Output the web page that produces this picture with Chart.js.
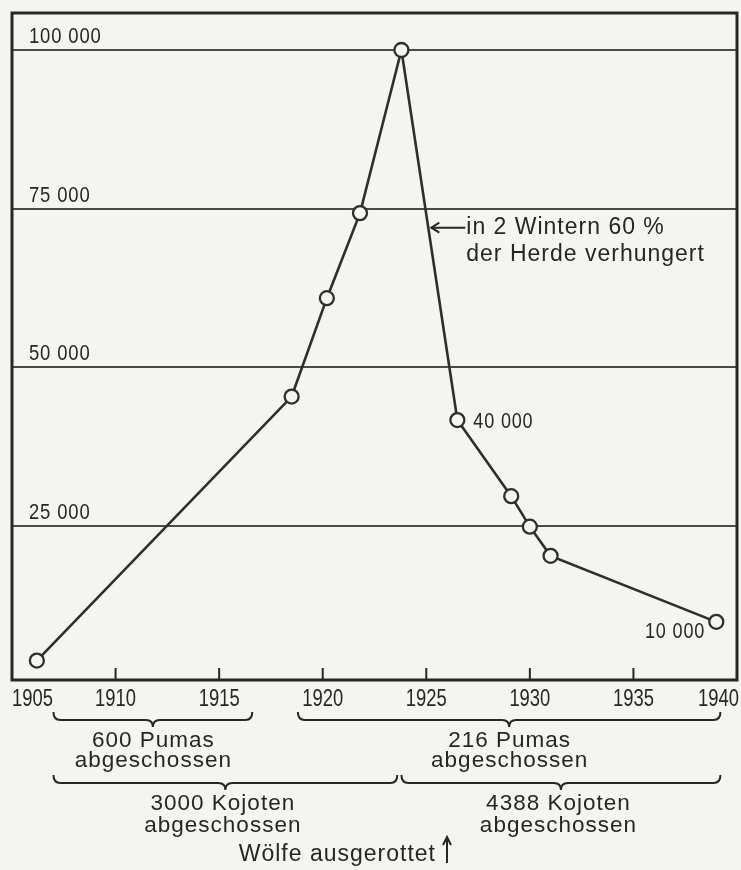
<!DOCTYPE html>
<html><head><meta charset="utf-8">
<script src="https://cdn.jsdelivr.net/npm/chart.js@4.4.1/dist/chart.umd.min.js"></script>
<style>html,body{margin:0;padding:0;background:#f4f4f1;}canvas{display:block}</style>
</head><body>
<canvas id="c" width="741" height="870"></canvas>
<script>
// ---- data ----
const years = [1906.2, 1918.5, 1920.2, 1921.8, 1923.8, 1926.5, 1929.1, 1930, 1931, 1939];
const deer  = [3800, 45400, 60900, 74300, 100000, 41700, 29700, 24900, 20300, 9900];
const yearTicks = [1905, 1910, 1915, 1920, 1925, 1930, 1935, 1940];
const valueTicks = [25000, 50000, 75000, 100000];
const valueTickLabels = ['25 000', '50 000', '75 000', '100 000'];
const labelledPoints = [5, 9];
const labelledPointTexts = ['40 000', '10 000'];
const pumaFrom = [1907, 1918.8];
const pumaTo = [1916.6, 1939.2];
const pumaText = ['600 Pumas', '216 Pumas'];
const coyoteFrom = [1907, 1923.8];
const coyoteTo = [1923.6, 1939.2];
const coyoteText = ['3000 Kojoten', '4388 Kojoten'];
const shotText = 'abgeschossen';
const wolvesYear = 1926;
const wolvesText = 'Wölfe ausgerottet';
const starvationValue = 72000;
const starvationText = ['in 2 Wintern 60 %', 'der Herde verhungert'];

const BG = '#f4f4f1', INK = '#262626';
const FONT = '"Liberation Sans", Arial, sans-serif';

function txt(ctx, s, x, y, size, align, sx, ls) {
  ctx.save();
  ctx.font = size + 'px ' + FONT;
  ctx.letterSpacing = (ls || 0) + 'px';
  ctx.textBaseline = 'middle';
  ctx.textAlign = 'left';
  ctx.fillStyle = INK;
  const w = (ctx.measureText(s).width - (ls || 0)) * sx;
  const x0 = align === 'center' ? x - w / 2 : align === 'right' ? x - w : x;
  ctx.translate(x0, y);
  ctx.scale(sx, 1);
  ctx.fillText(s, 0, 0);
  ctx.restore();
}
function brace(ctx, x1, x2, y) {
  const r = 7, tip = (x1 + x2) / 2;
  ctx.beginPath();
  ctx.moveTo(x1, y - 8);
  ctx.quadraticCurveTo(x1, y, x1 + r, y);
  ctx.lineTo(tip - r, y);
  ctx.quadraticCurveTo(tip, y, tip, y + 7);
  ctx.quadraticCurveTo(tip, y, tip + r, y);
  ctx.lineTo(x2 - r, y);
  ctx.quadraticCurveTo(x2, y, x2, y - 8);
  ctx.stroke();
  return tip;
}

const decor = {
  id: 'decor',
  beforeDraw(chart) {
    const c = chart.ctx;
    c.save(); c.fillStyle = BG; c.fillRect(0, 0, chart.width, chart.height); c.restore();
  },
  afterDraw(chart) {
    const c = chart.ctx, a = chart.chartArea;
    const xs = chart.scales.x, ys = chart.scales.y;
    c.save();
    c.strokeStyle = INK;
    // frame
    c.lineWidth = 3;
    c.strokeRect(a.left, a.top, a.right - a.left, a.bottom - a.top);
    // inner tick marks
    c.lineWidth = 2;
    yearTicks.forEach((v, i) => {
      if (i === 0 || i === yearTicks.length - 1) return;
      const x = xs.getPixelForValue(v);
      c.beginPath(); c.moveTo(x, a.bottom); c.lineTo(x, a.bottom - 12); c.stroke();
    });
    // year labels
    yearTicks.forEach((v, i) => {
      const x = xs.getPixelForValue(v);
      let align = 'center', px = x;
      if (i === 0) { align = 'left'; px = a.left; }
      if (i === yearTicks.length - 1) { align = 'right'; px = a.right + 2; }
      txt(c, String(v), px, a.bottom + 20, 23, align, 0.8, 0);
    });
    // value labels
    valueTicks.forEach((v, i) => {
      const y = ys.getPixelForValue(v);
      txt(c, valueTickLabels[i], a.left + 17, y - 13, 22, 'left', 0.84, 1);
    });
    // point labels
    const meta = chart.getDatasetMeta(0);
    labelledPoints.forEach((idx, k) => {
      const p = meta.data[idx];
      if (k === 0) txt(c, labelledPointTexts[k], p.x + 16, p.y + 2, 22, 'left', 0.82, 1);
      else txt(c, labelledPointTexts[k], p.x - 12, p.y + 10, 22, 'right', 0.82, 1);
    });
    // starvation arrow
    const p4 = meta.data[4], p5 = meta.data[5];
    const ay = ys.getPixelForValue(starvationValue);
    const lx = p4.x + (p5.x - p4.x) * (ay - p4.y) / (p5.y - p4.y);
    c.lineWidth = 2;
    c.beginPath(); c.moveTo(lx + 3, ay); c.lineTo(lx + 37, ay); c.stroke();
    c.beginPath(); c.moveTo(lx + 11, ay - 5); c.lineTo(lx + 3, ay); c.lineTo(lx + 11, ay + 5); c.stroke();
    txt(c, starvationText[0], lx + 38, ay, 23, 'left', 1, 1);
    txt(c, starvationText[1], lx + 38, ay + 27, 23, 'left', 1, 1);
    // braces and texts
    const topY = a.bottom + 40, botY = a.bottom + 103;
    pumaFrom.forEach((f, i) => {
      const tip = brace(c, xs.getPixelForValue(f), xs.getPixelForValue(pumaTo[i]), topY);
      txt(c, pumaText[i], tip, topY + 21, 22.5, 'center', 1, 1);
      txt(c, shotText, tip, topY + 41, 22.5, 'center', 1, 1);
    });
    coyoteFrom.forEach((f, i) => {
      const tip = brace(c, xs.getPixelForValue(f), xs.getPixelForValue(coyoteTo[i]), botY);
      txt(c, coyoteText[i], tip - 3, botY + 21, 22.5, 'center', 1, 1);
      txt(c, shotText, tip - 3, botY + 43, 22.5, 'center', 1, 1);
    });
    // wolves
    const wx = xs.getPixelForValue(wolvesYear);
    c.beginPath(); c.moveTo(wx, a.bottom + 183); c.lineTo(wx, a.bottom + 158); c.stroke();
    c.beginPath(); c.moveTo(wx - 4, a.bottom + 165); c.lineTo(wx, a.bottom + 157); c.lineTo(wx + 4, a.bottom + 165); c.stroke();
    txt(c, wolvesText, wx - 12, a.bottom + 175, 23, 'right', 1, 1);
    c.restore();
  }
};

new Chart(document.getElementById('c'), {
  type: 'line',
  data: { datasets: [{
    data: years.map((x, i) => ({ x, y: deer[i] })),
    borderColor: '#2e2e2e', borderWidth: 2.6, tension: 0,
    pointRadius: 7, pointBorderWidth: 2.3,
    pointBackgroundColor: BG, pointBorderColor: '#2e2e2e', clip: false
  }]},
  options: {
    responsive: false, animation: false,
    layout: { autoPadding: false, padding: { left: 12, right: 4, top: 13, bottom: 190 } },
    plugins: { legend: { display: false }, tooltip: { enabled: false } },
    scales: {
      x: { type: 'linear', min: 1905, max: 1940,
           ticks: { display: false }, grid: { display: false, drawTicks: false }, border: { display: false } },
      y: { min: 740, max: 105830,
           afterBuildTicks: s => { s.ticks = valueTicks.map(v => ({ value: v })); },
           ticks: { display: false },
           grid: { color: '#4a4a4a', lineWidth: 2, drawTicks: false }, border: { display: false } }
    }
  },
  plugins: [decor]
});
</script>
</body></html>
